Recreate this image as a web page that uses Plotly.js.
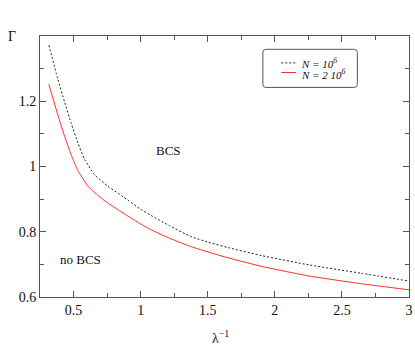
<!DOCTYPE html>
<html>
<head>
<meta charset="utf-8">
<script src="https://cdn.plot.ly/plotly-3.0.1.min.js"></script>
<style>
  html, body { margin: 0; padding: 0; background: #fff; }
  #chart { width: 415px; height: 360px; }
</style>
</head>
<body>
<div id="chart"></div>
<script>
// N = 10^6 (dotted black)
const x_n1 = [0.316, 0.383, 0.433, 0.483, 0.532, 0.582, 0.656, 0.755, 0.867, 1.0, 1.073, 1.222, 1.371, 1.52, 1.656, 1.9, 2.26, 2.64, 3.0];
const g_n1 = [1.372, 1.268, 1.198, 1.132, 1.073, 1.022, 0.975, 0.940, 0.908, 0.869, 0.851, 0.817, 0.786, 0.766, 0.751, 0.727, 0.698, 0.673, 0.649];

// N = 2 10^6 (solid red)
const x_n2 = [0.316, 0.383, 0.433, 0.483, 0.532, 0.607, 0.706, 0.818, 0.924, 1.0, 1.073, 1.222, 1.371, 1.6, 1.9, 2.26, 2.64, 3.0];
const g_n2 = [1.252, 1.158, 1.093, 1.035, 0.988, 0.940, 0.903, 0.871, 0.843, 0.824, 0.807, 0.779, 0.755, 0.726, 0.694, 0.664, 0.641, 0.622];

const x_ticks = [0.5, 1, 1.5, 2, 2.5, 3];
const x_minor = [0.25, 0.75, 1.25, 1.75, 2.25, 2.75];
const y_ticks = [0.6, 0.8, 1, 1.2, 1.4];
const y_ticklabels = ["0.6", "0.8", "1", "1.2", ""];
const y_minor = [0.7, 0.9, 1.1, 1.3];

const serif = "Liberation Serif";
const axis_col = "#555";

const data = [
  {
    x: x_n1, y: g_n1, type: "scatter", mode: "lines",
    line: {color: "#222", width: 1, dash: "2px,2px", shape: "spline", smoothing: 0.5},
    showlegend: false
  },
  {
    x: x_n2, y: g_n2, type: "scatter", mode: "lines",
    line: {color: "#ff2a2a", width: 1, shape: "spline", smoothing: 0.5},
    showlegend: false
  }
];

const layout = {
  width: 415,
  height: 360,
  margin: {l: 39.5, r: 6, t: 36, b: 63, pad: 0},
  paper_bgcolor: "#fff",
  plot_bgcolor: "#fff",
  font: {family: serif, size: 14, color: "#111"},
  xaxis: {
    range: [0.25, 3],
    tickmode: "array", tickvals: x_ticks, ticktext: x_ticks.map(String),
    ticks: "inside", ticklen: 6, tickwidth: 1, tickcolor: axis_col,
    minor: {tickmode: "array", tickvals: x_minor, ticks: "inside", ticklen: 4, tickcolor: axis_col},
    showline: true, linecolor: axis_col, linewidth: 1, mirror: "ticks",
    showgrid: false, zeroline: false,
    tickfont: {family: serif, size: 14}
  },
  yaxis: {
    range: [0.6, 1.4],
    tickmode: "array", tickvals: y_ticks, ticktext: y_ticklabels,
    ticks: "inside", ticklen: 6, tickwidth: 1, tickcolor: axis_col,
    minor: {tickmode: "array", tickvals: y_minor, ticks: "inside", ticklen: 4, tickcolor: axis_col},
    showline: true, linecolor: axis_col, linewidth: 1, mirror: "ticks",
    showgrid: false, zeroline: false,
    tickfont: {family: serif, size: 14}
  },
  shapes: [
    // legend box, rounded
    {
      type: "path", xref: "paper", yref: "paper",
      path: "M 0.612 0.949 L 0.852 0.949 Q 0.860 0.949 0.860 0.937 L 0.860 0.815 Q 0.860 0.803 0.852 0.803 L 0.612 0.803 Q 0.604 0.803 0.604 0.815 L 0.604 0.937 Q 0.604 0.949 0.612 0.949 Z",
      line: {color: axis_col, width: 1}, fillcolor: "rgba(0,0,0,0)"
    },
    {type: "line", xref: "paper", yref: "paper", x0: 0.654, x1: 0.694, y0: 0.897, y1: 0.897,
     line: {color: "#222", width: 1, dash: "2px,2px"}},
    {type: "line", xref: "paper", yref: "paper", x0: 0.654, x1: 0.694, y0: 0.860, y1: 0.860,
     line: {color: "#ff2a2a", width: 1}}
  ],
  annotations: [
    {xref: "paper", yref: "paper", x: 0.703, y: 0.897, xanchor: "left", yanchor: "middle",
     text: "<i>N = 10<sup>6</sup></i>", showarrow: false, font: {family: serif, size: 11}},
    {xref: "paper", yref: "paper", x: 0.703, y: 0.856, xanchor: "left", yanchor: "middle",
     text: "<i>N = 2 10<sup>6</sup></i>", showarrow: false, font: {family: serif, size: 11}},
    {xref: "x", yref: "y", x: 1.21, y: 1.05, text: "BCS", showarrow: false,
     font: {family: serif, size: 13}},
    {xref: "x", yref: "y", x: 0.55, y: 0.716, text: "no BCS", showarrow: false,
     font: {family: serif, size: 13}},
    {xref: "paper", yref: "paper", x: -0.075, y: 1.0, xanchor: "center", yanchor: "middle",
     text: "Γ", showarrow: false, font: {family: serif, size: 14}},
    {xref: "paper", yref: "paper", x: 0.49, y: -0.155, xanchor: "center", yanchor: "middle",
     text: "λ<sup>−1</sup>", showarrow: false, font: {family: serif, size: 14}}
  ]
};

Plotly.newPlot("chart", data, layout, {displayModeBar: false, staticPlot: true});
</script>
</body>
</html>
